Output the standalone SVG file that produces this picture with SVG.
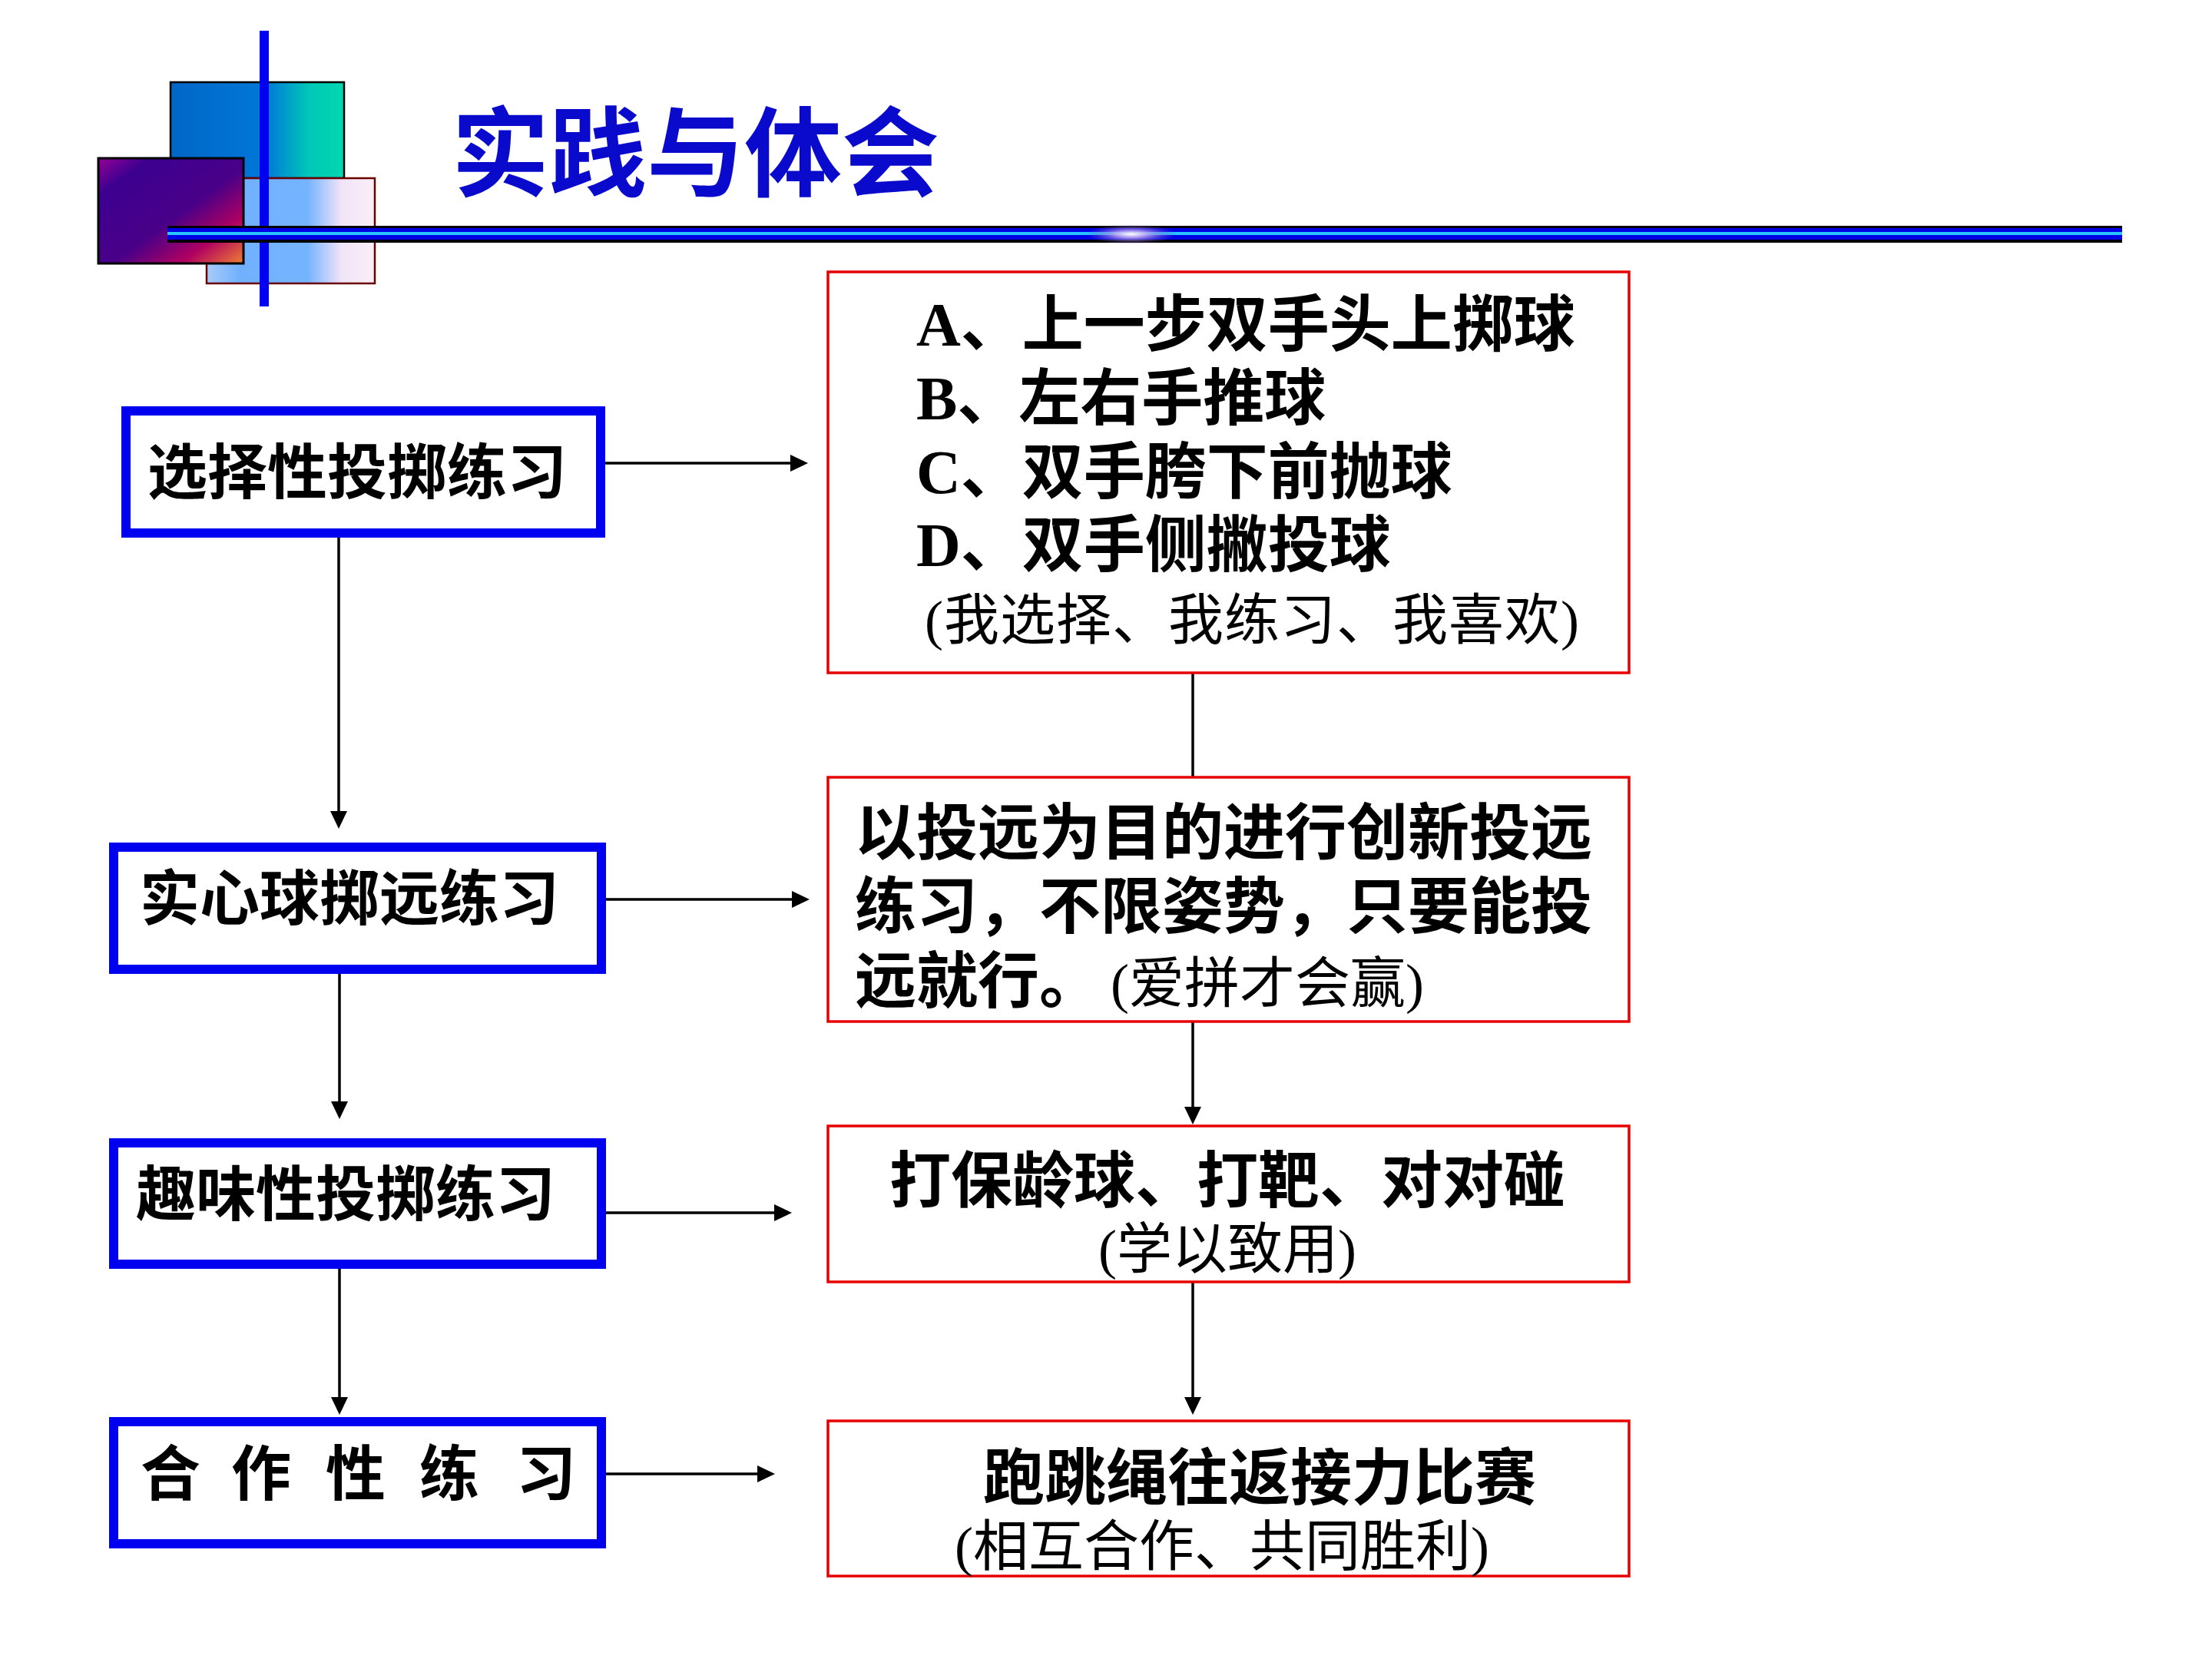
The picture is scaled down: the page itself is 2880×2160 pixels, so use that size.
<svg xmlns="http://www.w3.org/2000/svg" width="2880" height="2160" viewBox="0 0 2880 2160">
  <style>
    .lbox { fill: #FFFFFF; stroke: #0000F0; stroke-width: 12; }
    .rbox { fill: #FFFFFF; stroke: #E80000; stroke-width: 3.5; }
    .main { font-family: "Liberation Serif", "Noto Sans CJK SC", serif; font-weight: 700; font-size: 80px; fill: #000000; }
    .lbl { font-family: "Noto Sans CJK SC", sans-serif; font-weight: 700; font-size: 78px; fill: #000000; }
    .sub { font-family: "Liberation Serif", "Noto Sans CJK SC", serif; font-weight: 400; font-size: 72px; fill: #000000; }
    .conn { stroke: #000000; stroke-width: 3.5; fill: none; }
    .arr { marker-end: url(#ah); }
    .title { font-family: "Noto Sans CJK SC", sans-serif; font-weight: 700; font-size: 127px; fill: #0A0ACD; }
  </style>
  <defs>
    <marker id="ah" viewBox="0 0 23 22" refX="13" refY="11" markerWidth="23" markerHeight="22" markerUnits="userSpaceOnUse" orient="auto">
      <path d="M0,0 L23,11 L0,22 z" fill="#000000"/>
    </marker>
    <linearGradient id="gTeal" x1="0" y1="0" x2="1" y2="0">
      <stop offset="0" stop-color="#0066C6"/>
      <stop offset="0.55" stop-color="#0078D8"/>
      <stop offset="0.8" stop-color="#00C8B8"/>
      <stop offset="1" stop-color="#00D8AE"/>
    </linearGradient>
    <linearGradient id="gPink" x1="0" y1="0" x2="1" y2="0">
      <stop offset="0" stop-color="#A8CCF8"/>
      <stop offset="0.2" stop-color="#70B0FF"/>
      <stop offset="0.6" stop-color="#74B4FF"/>
      <stop offset="0.8" stop-color="#F0E4F8"/>
      <stop offset="1" stop-color="#FCEEF8"/>
    </linearGradient>
    <linearGradient id="gPurple" x1="0" y1="0" x2="1" y2="1">
      <stop offset="0" stop-color="#960096"/>
      <stop offset="0.18" stop-color="#3C0090"/>
      <stop offset="0.55" stop-color="#4A0088"/>
      <stop offset="0.78" stop-color="#B00060"/>
      <stop offset="1" stop-color="#F08030"/>
    </linearGradient>
    <radialGradient id="gGlow" cx="0.5" cy="0.5" r="0.5">
      <stop offset="0" stop-color="#FFFFFF" stop-opacity="1"/>
      <stop offset="0.35" stop-color="#C0A8F0" stop-opacity="0.85"/>
      <stop offset="1" stop-color="#6040C0" stop-opacity="0"/>
    </radialGradient>
  </defs>
  <rect width="2880" height="2160" fill="#FFFFFF"/>

  <g id="logo">
    <rect x="222" y="107" width="226" height="125" fill="url(#gTeal)" stroke="#000000" stroke-width="2.5"/>
    <rect x="269" y="232" width="219" height="137" fill="url(#gPink)" stroke="#6B0000" stroke-width="2.5"/>
    <rect x="128" y="206" width="189" height="137" fill="url(#gPurple)" stroke="#000000" stroke-width="3"/>
    <rect x="338" y="40" width="12" height="359" fill="#0000F0"/>
    <rect x="218" y="294" width="2545" height="22" fill="#000000"/>
    <rect x="218" y="297" width="2545" height="15" fill="#0000E6"/>
    <rect x="218" y="302" width="2545" height="4" fill="#28C4FF"/>
    <ellipse cx="1473" cy="305" rx="60" ry="13" fill="url(#gGlow)"/>
  </g>

  <g id="title">
    <text class="title" x="588" y="246">实践与体会</text>
  </g>

  <g id="connectors">
    <line class="conn arr" x1="787" y1="603" x2="1042" y2="603"/>
    <line class="conn arr" x1="789" y1="1171" x2="1044" y2="1171"/>
    <line class="conn arr" x1="789" y1="1579" x2="1021" y2="1579"/>
    <line class="conn arr" x1="789" y1="1919" x2="999" y2="1919"/>
    <line class="conn arr" x1="441" y1="699" x2="441" y2="1069"/>
    <line class="conn arr" x1="442" y1="1268" x2="442" y2="1447"/>
    <line class="conn arr" x1="442" y1="1652" x2="442" y2="1832"/>
    <line class="conn" x1="1553" y1="876" x2="1553" y2="1012"/>
    <line class="conn arr" x1="1553" y1="1330" x2="1553" y2="1454"/>
    <line class="conn arr" x1="1553" y1="1669" x2="1553" y2="1832"/>
  </g>

  <g id="node-xuanze">
    <rect class="lbox" x="164" y="535" width="618" height="159"/>
    <text class="lbl" x="465" y="643" text-anchor="middle">选择性投掷练习</text>
  </g>
  <g id="node-shixinqiu">
    <rect class="lbox" x="148" y="1103" width="635" height="159"/>
    <text class="lbl" x="455" y="1198" text-anchor="middle">实心球掷远练习</text>
  </g>
  <g id="node-quwei">
    <rect class="lbox" x="148" y="1488" width="635" height="158"/>
    <text class="lbl" x="450" y="1583" text-anchor="middle">趣味性投掷练习</text>
  </g>
  <g id="node-hezuo">
    <rect class="lbox" x="148" y="1851" width="635" height="159"/>
    <text class="lbl" x="183 261 301 379 424 502 546 624 672" y="1947">合 作 性 练 习</text>
  </g>

  <g id="node-detail1">
    <rect class="rbox" x="1078" y="354" width="1043" height="522"/>
    <text class="main" x="1193" y="450">A、上一步双手头上掷球</text>
    <text class="main" x="1193" y="546">B、左右手推球</text>
    <text class="main" x="1193" y="642">C、双手胯下前抛球</text>
    <text class="main" x="1193" y="737">D、双手侧撇投球</text>
    <text class="sub" x="1204" y="832" letter-spacing="1">(我选择、我练习、我喜欢)</text>
  </g>
  <g id="node-detail2">
    <rect class="rbox" x="1078" y="1012" width="1043" height="318"/>
    <text class="main" x="1113" y="1112">以投远为目的进行创新投远</text>
    <text class="main" x="1113" y="1208">练习，不限姿势，只要能投</text>
    <text class="main" x="1113" y="1305">远就行。<tspan class="sub" x="1446">(爱拼才会赢)</tspan></text>
  </g>
  <g id="node-detail3">
    <rect class="rbox" x="1078" y="1466" width="1043" height="203"/>
    <text class="main" x="1598" y="1565" text-anchor="middle">打保龄球、打靶、对对碰</text>
    <text class="sub" x="1598" y="1651" text-anchor="middle">(学以致用)</text>
  </g>
  <g id="node-detail4">
    <rect class="rbox" x="1078" y="1850" width="1043" height="202"/>
    <text class="main" x="1640" y="1952" text-anchor="middle">跑跳绳往返接力比赛</text>
    <text class="sub" x="1591" y="2038" text-anchor="middle">(相互合作、共同胜利)</text>
  </g>
</svg>
